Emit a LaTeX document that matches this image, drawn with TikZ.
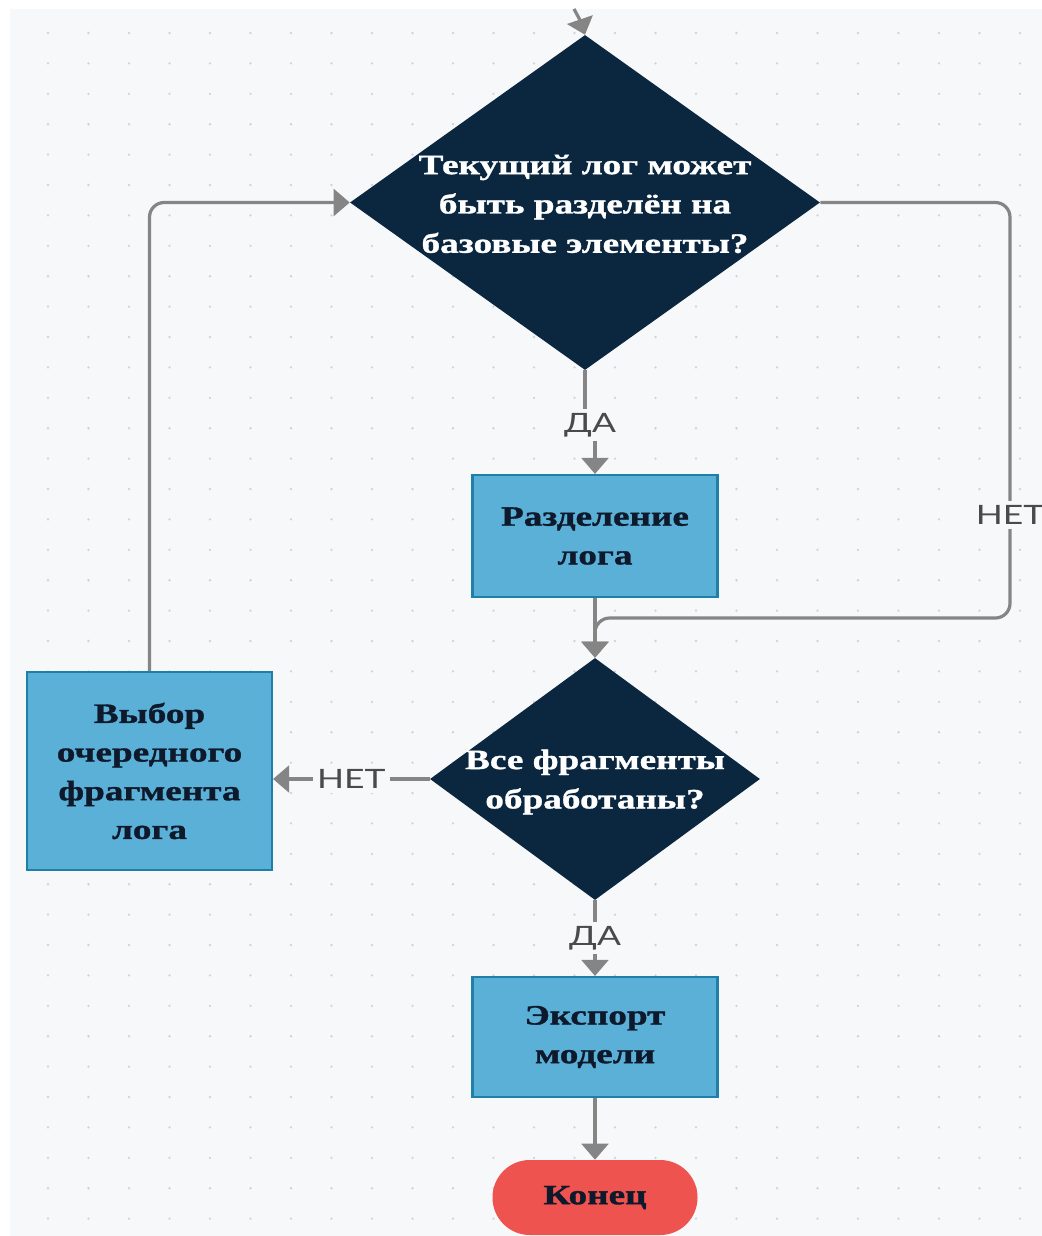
\documentclass[tikz,border=0pt]{standalone}
\usepackage{fontspec}
\setmainfont{Liberation Serif}
\newfontfamily\boxfont[FakeStretch=1.33,FakeBold=1.2]{Liberation Serif}
\newfontfamily\labelfont[FakeStretch=1.33]{Lato}
\usetikzlibrary{shapes.geometric,arrows.meta}

\definecolor{bgpage}{HTML}{F7F8FA}
\definecolor{griddot}{HTML}{D0D3D8}
\definecolor{navy}{HTML}{0B2740}
\definecolor{procfill}{HTML}{5BB0D8}
\definecolor{procline}{HTML}{1F7FA8}
\definecolor{endfill}{HTML}{EF5350}
\definecolor{wire}{HTML}{858585}
\definecolor{labelgrey}{HTML}{4A4A4A}
\definecolor{boxtext}{HTML}{0E1A2B}

\tikzset{
  decision/.style={shape=diamond, fill=navy, inner sep=0pt},
  dtext/.style={text=white, align=center, inner sep=0pt,
    font=\boxfont\bfseries\fontsize{21}{29.5}\selectfont},
  process/.style={rectangle, fill=procfill, draw=procline, line width=1.6pt,
    text=boxtext, align=center,
    font=\boxfont\bfseries\fontsize{21}{29}\selectfont},
  terminal/.style={rectangle, rounded corners=28pt, fill=endfill,
    text=boxtext, font=\boxfont\bfseries\fontsize{21}{24}\selectfont},
  conn/.style={draw=wire, line width=2.4pt,
    -{Triangle[width=20pt,length=12pt]}},
  plainwire/.style={draw=wire, line width=2.4pt},
  wlabel/.style={fill=bgpage, text=labelgrey, inner sep=3pt,
    font=\labelfont\fontsize{20}{24}\selectfont},
}

\begin{document}
\begin{tikzpicture}[x=0.75pt, y=-0.75pt]
  % page and dotted canvas
  \useasboundingbox (0,0) rectangle (1042,1236);
  \fill[white] (0,0) rectangle (1042,1236);
  \fill[bgpage] (10,9) rectangle (1042,1236);
  \foreach \gx in {0,...,24} {
    \foreach \gy in {0,...,39} {
      \fill[griddot] (48+40.5*\gx, 33+30.4*\gy) circle (1.3);
    }
  }

  % shapes
  \node[decision, minimum width=352.5pt, minimum height=251.25pt] (q1) at (585,202.5) {};
  \node[dtext] (q1t) at (585,204) {Текущий лог может\\быть разделён на\\базовые элементы?};

  \node[process, minimum width=183.75pt, minimum height=91.5pt] (split) at (595,536) {Разделение\\лога};

  \node[decision, minimum width=247.5pt, minimum height=181.5pt] (q2) at (595,779) {};
  \node[dtext] (q2t) at (595,782) {Все фрагменты\\обработаны?};

  \node[process, minimum width=183.75pt, minimum height=148.5pt] (pick) at (149.5,771) {Выбор\\очередного\\фрагмента\\лога};

  \node[process, minimum width=183.75pt, minimum height=90pt] (export) at (595,1037) {Экспорт\\модели};

  \node[terminal, minimum width=153.75pt, minimum height=56.25pt] (finish) at (595,1197.5) {Конец};

  % connectors
  \coordinate (entry) at (574,9);
  \coordinate (rbend) at (1010,618);
  \node[wlabel] (yes1) at (590,425) {ДА};

  \draw[conn] (entry) .. controls (580,20) .. (q1.north);
  \draw[plainwire] (q1.south) -- (q1.south |- yes1.north);
  \draw[conn] (yes1.south -| split.north) -- (split.north);
  \draw[conn] (split.south) -- (q2.north);
  \draw[conn, rounded corners=11pt] (q1.east) -| (rbend) -| (q2.north);
  \node[wlabel] (no1) at (1010,515) {НЕТ};
  \draw[conn] (q2.west) -- node[wlabel] (no2) {НЕТ} (q2.west -| pick.east);
  \draw[conn, rounded corners=11pt] (pick.north) |- (q1.west);
  \draw[conn] (q2.south) -- node[wlabel] (yes2) {ДА} (export.north);
  \draw[conn] (export.south) -- (finish.north);
\end{tikzpicture}
\end{document}
